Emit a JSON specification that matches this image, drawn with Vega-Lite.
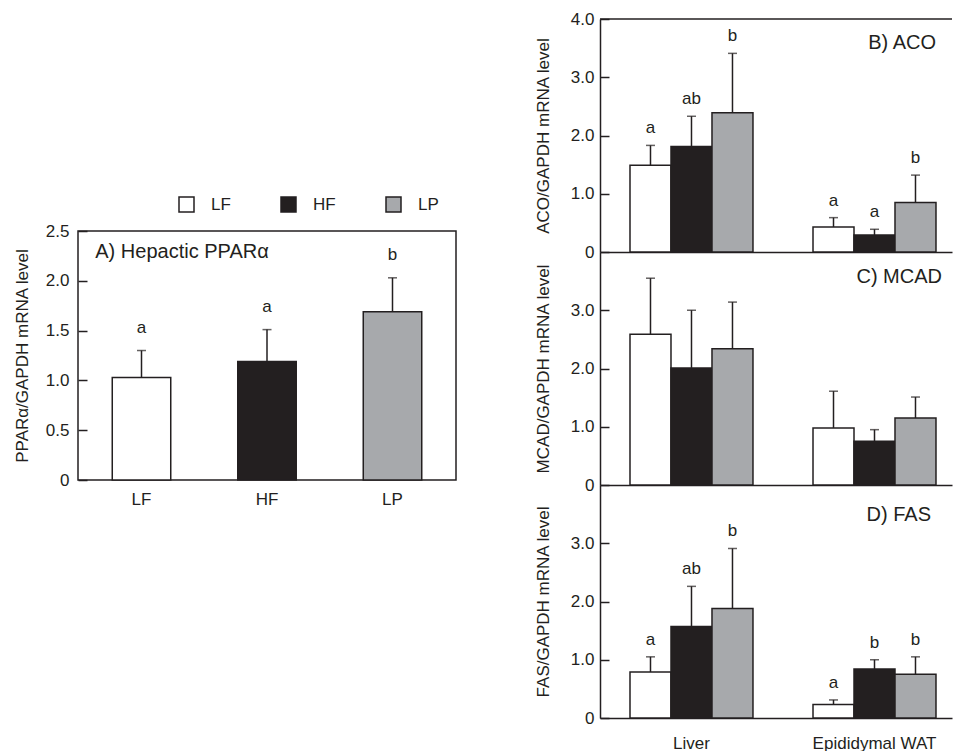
{
  "$schema": "https://vega.github.io/schema/vega-lite/v6.json",
  "padding": {"left": 12, "top": 10, "right": 0, "bottom": 0},
  "background": "white",
  "config": {
    "font": "Liberation Sans",
    "view": {"stroke": null},
    "axis": {
      "labelFont": "Liberation Sans", "titleFont": "Liberation Sans",
      "labelFontSize": 17, "titleFontSize": 17, "titleFontWeight": "normal",
      "labelColor": "#231f20", "titleColor": "#231f20",
      "domainColor": "#231f20", "tickColor": "#231f20",
      "domainWidth": 1.5, "tickWidth": 1.5, "grid": false
    },
    "text": {"font": "Liberation Sans", "color": "#231f20"}
  },
  "datasets": {
    "hepatic": [
      {"group": "LF", "value": 1.03, "upper": 1.30, "sig": "a"},
      {"group": "HF", "value": 1.19, "upper": 1.51, "sig": "a"},
      {"group": "LP", "value": 1.69, "upper": 2.03, "sig": "b"}
    ],
    "genes": [
      {"gene": "ACO", "tissue": "Liver", "group": "LF", "value": 1.49, "upper": 1.83, "sig": "a"},
      {"gene": "ACO", "tissue": "Liver", "group": "HF", "value": 1.81, "upper": 2.33, "sig": "ab"},
      {"gene": "ACO", "tissue": "Liver", "group": "LP", "value": 2.39, "upper": 3.41, "sig": "b"},
      {"gene": "ACO", "tissue": "Epididymal WAT", "group": "LF", "value": 0.43, "upper": 0.59, "sig": "a"},
      {"gene": "ACO", "tissue": "Epididymal WAT", "group": "HF", "value": 0.29, "upper": 0.39, "sig": "a"},
      {"gene": "ACO", "tissue": "Epididymal WAT", "group": "LP", "value": 0.85, "upper": 1.32, "sig": "b"},
      {"gene": "MCAD", "tissue": "Liver", "group": "LF", "value": 2.59, "upper": 3.55, "sig": ""},
      {"gene": "MCAD", "tissue": "Liver", "group": "HF", "value": 2.01, "upper": 3.00, "sig": ""},
      {"gene": "MCAD", "tissue": "Liver", "group": "LP", "value": 2.34, "upper": 3.14, "sig": ""},
      {"gene": "MCAD", "tissue": "Epididymal WAT", "group": "LF", "value": 0.98, "upper": 1.61, "sig": ""},
      {"gene": "MCAD", "tissue": "Epididymal WAT", "group": "HF", "value": 0.75, "upper": 0.95, "sig": ""},
      {"gene": "MCAD", "tissue": "Epididymal WAT", "group": "LP", "value": 1.15, "upper": 1.51, "sig": ""},
      {"gene": "FAS", "tissue": "Liver", "group": "LF", "value": 0.79, "upper": 1.05, "sig": "a"},
      {"gene": "FAS", "tissue": "Liver", "group": "HF", "value": 1.57, "upper": 2.26, "sig": "ab"},
      {"gene": "FAS", "tissue": "Liver", "group": "LP", "value": 1.88, "upper": 2.91, "sig": "b"},
      {"gene": "FAS", "tissue": "Epididymal WAT", "group": "LF", "value": 0.23, "upper": 0.31, "sig": "a"},
      {"gene": "FAS", "tissue": "Epididymal WAT", "group": "HF", "value": 0.84, "upper": 1.00, "sig": "b"},
      {"gene": "FAS", "tissue": "Epididymal WAT", "group": "LP", "value": 0.75, "upper": 1.05, "sig": "b"}
    ]
  },
  "spacing": 77,
  "resolve": {"legend": {"color": "independent"}},
  "hconcat": [
    {
      "spacing": 0,
      "bounds": "flush",
      "resolve": {"legend": {"color": "independent"}},
      "vconcat": [
        {
          "width": 378, "height": 212,
          "data": {"values": []},
          "mark": {"type": "point", "opacity": 0},
          "encoding": {}
        },
        {
          "width": 378, "height": 249,
          "view": {"stroke": "#231f20", "strokeWidth": 1.5},
          "data": {"name": "hepatic"},
          "layer": [
            {
              "mark": {"type": "bar", "stroke": "#231f20", "strokeWidth": 1.5},
              "encoding": {
                "x": {"field": "group", "type": "nominal", "sort": ["LF", "HF", "LP"],
                  "scale": {"paddingInner": 0.534, "paddingOuter": 0.273},
                  "axis": {"title": null, "labelAngle": 0, "ticks": false, "tickSize": 0, "domain": false, "labelPadding": 11}},
                "y": {"field": "value", "type": "quantitative",
                  "scale": {"domain": [0, 2.5], "nice": false},
                  "axis": {"title": "PPARα/GAPDH mRNA level", "values": [0, 0.5, 1, 1.5, 2, 2.5],
                    "tickSize": -9, "labelPadding": 18, "domain": false, "titlePadding": 14,
                    "labelExpr": "datum.value == 0 ? '0' : format(datum.value, '.1f')"}},
                "color": {"field": "group", "type": "nominal",
                  "scale": {"domain": ["LF", "HF", "LP"], "range": ["#ffffff", "#231f20", "#a7a9ac"]},
                  "legend": {"orient": "none", "legendX": 100, "legendY": -35, "direction": "horizontal",
                    "title": null, "symbolType": "square", "symbolSize": 225,
                    "symbolStrokeColor": "#231f20", "symbolStrokeWidth": 1.5,
                    "labelFontSize": 17, "labelColor": "#231f20", "labelFont": "Liberation Sans",
                    "labelOffset": 16, "columnPadding": 47, "padding": 0}}
              }
            },
            {
              "mark": {"type": "rule", "strokeWidth": 1.5, "color": "#231f20"},
              "encoding": {
                "x": {"field": "group", "type": "nominal", "sort": ["LF", "HF", "LP"]},
                "y": {"field": "value", "type": "quantitative"},
                "y2": {"field": "upper"}
              }
            },
            {
              "mark": {"type": "tick", "size": 9, "thickness": 1.5, "color": "#231f20"},
              "encoding": {
                "x": {"field": "group", "type": "nominal", "sort": ["LF", "HF", "LP"]},
                "y": {"field": "upper", "type": "quantitative"}
              }
            },
            {
              "mark": {"type": "text", "dy": -18, "baseline": "alphabetic", "fontSize": 17},
              "encoding": {
                "x": {"field": "group", "type": "nominal", "sort": ["LF", "HF", "LP"]},
                "y": {"field": "upper", "type": "quantitative"},
                "text": {"field": "sig"}
              }
            },
            {
              "data": {"values": [{"label": "A) Hepactic PPARα"}]},
              "mark": {"type": "text", "align": "left", "baseline": "alphabetic", "fontSize": 20, "dx": -17, "dy": 27},
              "encoding": {
                "x": {"datum": "LF", "bandPosition": 0},
                "y": {"datum": 2.5},
                "text": {"field": "label"}
              }
            }
          ]
        }
      ]
    },
    {
      "spacing": 0,
      "bounds": "flush",
      "resolve": {"scale": {"xOffset": "independent"}, "legend": {"color": "independent"}},
      "vconcat": [
        {
          "width": 352, "height": 233,
          "data": {"name": "genes"},
          "transform": [{"filter": "datum.gene == 'ACO'"}],
          "layer": [
            {
              "mark": {"type": "bar", "stroke": "#231f20", "strokeWidth": 1.5},
              "encoding": {
                "x": {"field": "tissue", "type": "nominal", "sort": ["Liver", "Epididymal WAT"],
                  "scale": {"paddingInner": 0.328, "paddingOuter": 0.1257, "align": 0.652},
                  "axis": {"title": null, "labels": false, "ticks": false, "tickSize": 0, "domain": true}},
                "xOffset": {"field": "group", "type": "nominal", "sort": ["LF", "HF", "LP"], "scale": {"paddingInner": 0, "paddingOuter": 0}},
                "y": {"field": "value", "type": "quantitative",
                  "scale": {"domain": [0, 4], "nice": false},
                  "axis": {"title": "ACO/GAPDH mRNA level", "values": [0, 1, 2, 3, 4],
                    "tickSize": -9, "labelPadding": 15, "domain": true, "titlePadding": 18,
                    "labelExpr": "datum.value == 0 ? '0' : format(datum.value, '.1f')"}},
                "color": {"field": "group", "type": "nominal",
                  "scale": {"domain": ["LF", "HF", "LP"], "range": ["#ffffff", "#231f20", "#a7a9ac"]},
                  "legend": null}
              }
            },
            {
              "mark": {"type": "rule", "strokeWidth": 1.5, "color": "#231f20"},
              "encoding": {
                "x": {"field": "tissue", "type": "nominal", "sort": ["Liver", "Epididymal WAT"]},
                "xOffset": {"field": "group", "type": "nominal", "sort": ["LF", "HF", "LP"]},
                "y": {"field": "value", "type": "quantitative"},
                "y2": {"field": "upper"}
              }
            },
            {
              "mark": {"type": "tick", "size": 9, "thickness": 1.5, "color": "#231f20"},
              "encoding": {
                "x": {"field": "tissue", "type": "nominal", "sort": ["Liver", "Epididymal WAT"]},
                "xOffset": {"field": "group", "type": "nominal", "sort": ["LF", "HF", "LP"]},
                "y": {"field": "upper", "type": "quantitative"}
              }
            },
            {
              "mark": {"type": "text", "dy": -12, "baseline": "alphabetic", "fontSize": 17},
              "encoding": {
                "x": {"field": "tissue", "type": "nominal", "sort": ["Liver", "Epididymal WAT"]},
                "xOffset": {"field": "group", "type": "nominal", "sort": ["LF", "HF", "LP"]},
                "y": {"field": "upper", "type": "quantitative"},
                "text": {"field": "sig"}
              }
            },
            {
              "data": {"values": [{"gene": "ACO", "label": "B) ACO"}]},
              "mark": {"type": "text", "align": "right", "baseline": "alphabetic", "fontSize": 20, "dx": 0, "dy": 30},
              "encoding": {
                "x": {"datum": "Epididymal WAT", "bandPosition": 1},
                "y": {"datum": 4},
                "text": {"field": "label"}
              }
            },
            {
              "data": {"values": [{"gene": "ACO"}]},
              "mark": {"type": "rule", "strokeWidth": 1.5, "color": "#231f20"},
              "encoding": {"y": {"datum": 4}}
            }
          ]
        },
        {
          "width": 352, "height": 233,
          "data": {"name": "genes"},
          "transform": [{"filter": "datum.gene == 'MCAD'"}],
          "layer": [
            {
              "mark": {"type": "bar", "stroke": "#231f20", "strokeWidth": 1.5},
              "encoding": {
                "x": {"field": "tissue", "type": "nominal", "sort": ["Liver", "Epididymal WAT"],
                  "scale": {"paddingInner": 0.328, "paddingOuter": 0.1257, "align": 0.652},
                  "axis": {"title": null, "labels": false, "ticks": false, "tickSize": 0, "domain": true}},
                "xOffset": {"field": "group", "type": "nominal", "sort": ["LF", "HF", "LP"], "scale": {"paddingInner": 0, "paddingOuter": 0}},
                "y": {"field": "value", "type": "quantitative",
                  "scale": {"domain": [0, 4], "nice": false},
                  "axis": {"title": "MCAD/GAPDH mRNA level", "values": [0, 1, 2, 3],
                    "tickSize": -9, "labelPadding": 15, "domain": true, "titlePadding": 18,
                    "labelExpr": "datum.value == 0 ? '0' : format(datum.value, '.1f')"}},
                "color": {"field": "group", "type": "nominal",
                  "scale": {"domain": ["LF", "HF", "LP"], "range": ["#ffffff", "#231f20", "#a7a9ac"]},
                  "legend": null}
              }
            },
            {
              "mark": {"type": "rule", "strokeWidth": 1.5, "color": "#231f20"},
              "encoding": {
                "x": {"field": "tissue", "type": "nominal", "sort": ["Liver", "Epididymal WAT"]},
                "xOffset": {"field": "group", "type": "nominal", "sort": ["LF", "HF", "LP"]},
                "y": {"field": "value", "type": "quantitative"},
                "y2": {"field": "upper"}
              }
            },
            {
              "mark": {"type": "tick", "size": 9, "thickness": 1.5, "color": "#231f20"},
              "encoding": {
                "x": {"field": "tissue", "type": "nominal", "sort": ["Liver", "Epididymal WAT"]},
                "xOffset": {"field": "group", "type": "nominal", "sort": ["LF", "HF", "LP"]},
                "y": {"field": "upper", "type": "quantitative"}
              }
            },
            {
              "data": {"values": [{"gene": "MCAD", "label": "C) MCAD"}]},
              "mark": {"type": "text", "align": "right", "baseline": "alphabetic", "fontSize": 20, "dx": 6, "dy": 31},
              "encoding": {
                "x": {"datum": "Epididymal WAT", "bandPosition": 1},
                "y": {"datum": 4},
                "text": {"field": "label"}
              }
            }
          ]
        },
        {
          "width": 352, "height": 233,
          "data": {"name": "genes"},
          "transform": [{"filter": "datum.gene == 'FAS'"}],
          "layer": [
            {
              "mark": {"type": "bar", "stroke": "#231f20", "strokeWidth": 1.5},
              "encoding": {
                "x": {"field": "tissue", "type": "nominal", "sort": ["Liver", "Epididymal WAT"],
                  "scale": {"paddingInner": 0.328, "paddingOuter": 0.1257, "align": 0.652},
                  "axis": {"title": null, "labelAngle": 0, "ticks": false, "tickSize": 0, "domain": true, "labelPadding": 17}},
                "xOffset": {"field": "group", "type": "nominal", "sort": ["LF", "HF", "LP"], "scale": {"paddingInner": 0, "paddingOuter": 0}},
                "y": {"field": "value", "type": "quantitative",
                  "scale": {"domain": [0, 4], "nice": false},
                  "axis": {"title": "FAS/GAPDH mRNA level", "values": [0, 1, 2, 3],
                    "tickSize": -9, "labelPadding": 15, "domain": true, "titlePadding": 18,
                    "labelExpr": "datum.value == 0 ? '0' : format(datum.value, '.1f')"}},
                "color": {"field": "group", "type": "nominal",
                  "scale": {"domain": ["LF", "HF", "LP"], "range": ["#ffffff", "#231f20", "#a7a9ac"]},
                  "legend": null}
              }
            },
            {
              "mark": {"type": "rule", "strokeWidth": 1.5, "color": "#231f20"},
              "encoding": {
                "x": {"field": "tissue", "type": "nominal", "sort": ["Liver", "Epididymal WAT"]},
                "xOffset": {"field": "group", "type": "nominal", "sort": ["LF", "HF", "LP"]},
                "y": {"field": "value", "type": "quantitative"},
                "y2": {"field": "upper"}
              }
            },
            {
              "mark": {"type": "tick", "size": 9, "thickness": 1.5, "color": "#231f20"},
              "encoding": {
                "x": {"field": "tissue", "type": "nominal", "sort": ["Liver", "Epididymal WAT"]},
                "xOffset": {"field": "group", "type": "nominal", "sort": ["LF", "HF", "LP"]},
                "y": {"field": "upper", "type": "quantitative"}
              }
            },
            {
              "mark": {"type": "text", "dy": -12, "baseline": "alphabetic", "fontSize": 17},
              "encoding": {
                "x": {"field": "tissue", "type": "nominal", "sort": ["Liver", "Epididymal WAT"]},
                "xOffset": {"field": "group", "type": "nominal", "sort": ["LF", "HF", "LP"]},
                "y": {"field": "upper", "type": "quantitative"},
                "text": {"field": "sig"}
              }
            },
            {
              "data": {"values": [{"gene": "FAS", "label": "D) FAS"}]},
              "mark": {"type": "text", "align": "right", "baseline": "alphabetic", "fontSize": 20, "dx": -5, "dy": 36},
              "encoding": {
                "x": {"datum": "Epididymal WAT", "bandPosition": 1},
                "y": {"datum": 4},
                "text": {"field": "label"}
              }
            }
          ]
        }
      ]
    }
  ]
}
